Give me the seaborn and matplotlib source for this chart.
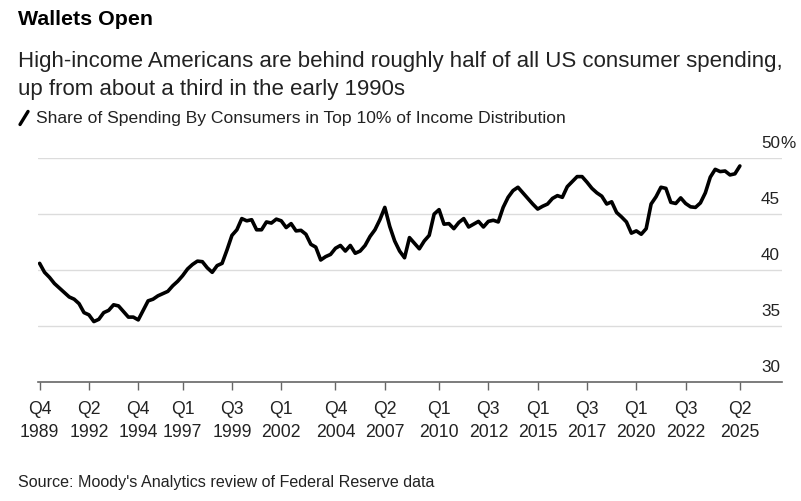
import matplotlib
matplotlib.use("Agg")
import matplotlib.pyplot as plt
from matplotlib.lines import Line2D
import matplotlib.transforms as mtransforms
import pandas as pd
import seaborn as sns

# ------ Dados ------ #

# trimestres de Q4 1989 até Q2 2025
share = [
    40.6, 39.8, 39.35, 38.8, 38.4, 38.0, 37.6, 37.4, 37.0, 36.2,
    36.0, 35.4, 35.6, 36.2, 36.4, 36.9, 36.8, 36.3, 35.8, 35.8,
    35.55, 36.4, 37.25, 37.4, 37.7, 37.9, 38.1, 38.6, 39.0, 39.5,
    40.1, 40.5, 40.8, 40.75, 40.2, 39.8, 40.4, 40.6, 41.8, 43.1,
    43.6, 44.6, 44.4, 44.5, 43.6, 43.6, 44.3, 44.2, 44.55, 44.4,
    43.8, 44.15, 43.5, 43.55, 43.2, 42.3, 42.05, 40.9, 41.2, 41.4,
    41.95, 42.2, 41.7, 42.2, 41.5, 41.7, 42.2, 43.0, 43.6, 44.5,
    45.6, 43.9, 42.6, 41.7, 41.1, 42.9, 42.4, 41.9, 42.6, 43.1,
    45.0, 45.4, 44.1, 44.15, 43.7, 44.25, 44.6, 43.85, 44.1, 44.35,
    43.85, 44.35, 44.45, 44.3, 45.6, 46.5, 47.1, 47.4, 46.9, 46.4,
    45.9, 45.45, 45.7, 45.9, 46.4, 46.65, 46.5, 47.45, 47.9, 48.35,
    48.35, 47.85, 47.3, 46.9, 46.6, 45.9, 46.1, 45.15, 44.75, 44.3,
    43.3, 43.5, 43.2, 43.7, 45.9, 46.55, 47.4, 47.3, 46.05, 45.95,
    46.45, 45.95, 45.65, 45.6, 46.0, 46.9, 48.3, 49.0, 48.8, 48.85,
    48.5, 48.6, 49.3,
]

tick_quarters = ["Q4", "Q2", "Q4", "Q1", "Q3", "Q1", "Q4", "Q2",
                 "Q1", "Q3", "Q1", "Q3", "Q1", "Q3", "Q2"]
tick_years = [1989, 1992, 1994, 1997, 1999, 2002, 2004, 2007,
              2010, 2012, 2015, 2017, 2020, 2022, 2025]
y_ticks = [30, 35, 40, 45, 50]


def quarter_index(q, year):
    # posição do trimestre contada a partir de Q4 1989
    return (year - 1989) * 4 + int(q[1]) - 4


df = pd.DataFrame({"idx": range(len(share)), "share": share})

# ------ Gráfico ------ #

sns.set_theme(style="white")
plt.rcParams["font.family"] = ["Liberation Sans", "DejaVu Sans"]

fig = plt.figure(figsize=(8.01, 5.02), dpi=100)
ax = fig.add_axes([0.047, 0.237, 0.929, 0.446])

sns.lineplot(data=df, x="idx", y="share", ax=ax, color="black", linewidth=2.6)

ax.set_xlim(-0.4, 150.5)
ax.set_ylim(30, 50)

# linhas de grade horizontais
for v in y_ticks[1:]:
    ax.axhline(v, color="#dcdcdc", linewidth=1.0, zorder=0)

for side in ["top", "right", "left"]:
    ax.spines[side].set_visible(False)
ax.spines["bottom"].set_color("#666666")
ax.spines["bottom"].set_linewidth(1.2)

ax.set_yticks([])
ax.set_xticks([quarter_index(q, y) for q, y in zip(tick_quarters, tick_years)])
ax.set_xticklabels([f"{q}\n{y}" for q, y in zip(tick_quarters, tick_years)],
                   fontsize=12.7, color="#222222", linespacing=1.45)
ax.tick_params(axis="x", bottom=True, length=6, width=1, color="#666666", pad=7)
ax.set_xlabel("")
ax.set_ylabel("")

# rótulos do eixo y acima das linhas de grade
trans = mtransforms.blended_transform_factory(ax.transAxes, ax.transData)
for v in y_ticks:
    ax.annotate(str(v), xy=(0.9975, v), xycoords=trans, xytext=(0, 6),
                textcoords="offset points", ha="right", va="bottom",
                fontsize=12.3, color="#222222")
ax.annotate("%", xy=(0.9975, 50), xycoords=trans, xytext=(0, 6),
            textcoords="offset points", ha="left", va="bottom",
            fontsize=12.3, color="#222222")

# títulos
fig.text(0.022, 0.962, "Wallets Open", fontsize=15.4, fontweight="bold",
         color="black", va="center")
fig.text(0.022, 0.877,
         "High-income Americans are behind roughly half of all US consumer spending,",
         fontsize=16, color="#222222", va="center")
fig.text(0.022, 0.822, "up from about a third in the early 1990s",
         fontsize=16, color="#222222", va="center")

# legenda
fig.add_artist(Line2D([0.025, 0.035], [0.750, 0.776], color="black",
                      linewidth=2.4, transform=fig.transFigure))
fig.text(0.045, 0.763,
         "Share of Spending By Consumers in Top 10% of Income Distribution",
         fontsize=12.6, color="#222222", va="center")

# fonte
fig.text(0.022, 0.038, "Source: Moody's Analytics review of Federal Reserve data",
         fontsize=11.6, color="#222222", va="center")

fig.savefig("out.png", dpi=100, facecolor="white")
